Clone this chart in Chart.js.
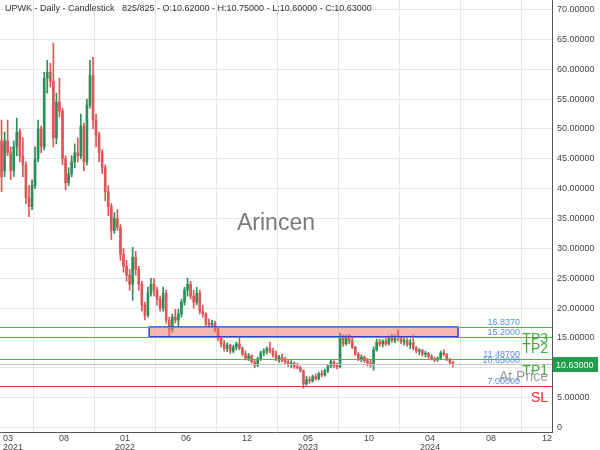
<!DOCTYPE html>
<html><head><meta charset="utf-8">
<script src="https://cdn.jsdelivr.net/npm/chart.js@4.4.1/dist/chart.umd.min.js"></script>
<style>html,body{margin:0;padding:0;background:#fff;}canvas{display:block;}</style>
</head><body><canvas id="c" width="600" height="450"></canvas>
<script>
// ---- data (one candle per ~5.5 trading days) ----
const openP = [
48,43,48,46,43,47,49.5,45.5,44,38.5,
37,40.5,45,50,47,58.5,59.5,58,48.5,54.5,
53,45,41,42.5,44.5,46,45.5,50.5,44.5,54,
59,51.5,49,46,43.5,39.5,37,33,35,33.5,
29,27,25.5,24,28.5,26.5,24,20.5,18.8,22.5,
24,23,21.5,20,22.5,18,16.5,18.5,18,19,
21,23,24,22,21,22.5,19.5,19,17.5,17.2,
17.5,16.5,15,14,13.2,13.8,12.8,13.5,14,13.3,
12.3,11.6,12,11,10.4,11.5,12.5,12.8,13.2,12.8,
12.2,11.6,11.8,11.2,11,10.5,10.8,10.2,10,9.5,
7.3,8,7.8,8.5,8.2,9,8.8,9.5,10.3,11,
10.4,10.2,15,14,15.2,14.5,13.5,12.3,11.5,11.8,
11.2,10.8,10.5,13,14.3,14,14.5,14,15,14.6,
15.2,15,14.4,14.6,13.9,14.2,13.3,12.8,12.9,12.3,
12.4,11.9,11.5,11.3,11.6,12.5,12.2,11.4,10.9];
const highP = [
51.5,49.5,51.5,47,48,51.8,50,48.5,44.5,40.5,
41.5,47,51.5,50.5,59.5,61.5,61,64.4,56,58.5,
53.5,45.5,43.5,45.5,47.5,48.5,52.5,51,55,61.5,
62,52.5,49.5,46.5,44,40.5,37.5,36,36.5,34,
30,28,26.5,30.2,29.5,27,24.5,21,23.5,25,
25,23.5,22,23.5,23,18.5,19,19.8,19.8,21.5,
23.5,25,24.5,23,23.5,23,20.5,19.2,18.2,18,
17.8,16.8,15.3,14.6,14.2,14,13.8,14.3,15.2,13.5,
12.8,12.4,12.2,11.3,11.8,12.8,13.2,13.5,14.3,13.3,
12.8,12.1,12.3,11.8,11.4,11.2,11,10.8,10.3,9.6,
8.6,8.5,8.8,9,9.3,9.6,9.8,10.5,11.3,11.2,
10.8,15.8,15.5,15.5,15.6,15,13.6,12.6,12.2,12,
11.6,11.3,13.5,14.8,14.8,14.7,14.9,15.3,15.6,15.5,
16.3,15.3,15,14.9,14.8,15.5,13.6,13.2,13.1,12.8,
12.6,12.2,11.8,11.8,12.8,13,12.4,11.6,11.1];
const lowP = [
39.5,42,45.5,41.5,42,45.5,44.5,42,37.5,35.3,
36.5,40,44.5,46,46.5,56,57,47,47.5,52,
44,39.8,40.5,42,43.5,44.5,45,43,44,53.5,
50,47,44.5,42.5,38,35.5,31.5,32.5,33,28,
26,24.5,23,21.3,25.5,23,19.5,18,18.5,22,
22,20.5,19.5,19.5,17.5,15.2,16,17.5,17,18.5,
20.5,22,21.5,20,20.5,19,18.5,17,16.8,16.8,
16,14.5,13.5,12.8,12.7,12.4,12.5,13,13,12,
11.3,11.2,10.8,10,10.2,11.2,12,12.3,12.5,11.8,
11.2,10.9,11,10.6,10.2,10,9.9,9.8,9.3,6.6,
7.1,7.4,7.6,7.9,8,8.5,8.6,9.2,10,10,
9.8,10,13.6,13.8,14,13.2,12,11.2,11,10.9,
10.3,10.1,9.6,12.8,13.6,13.5,13.7,13.8,14.3,14.2,
14.5,14,13.8,13.6,13.2,13,12.5,12.2,12,11.8,
11.6,11.3,11,11.1,11.4,12,11.2,10.6,10.1];
const closeP = [
42,48,46,43,47,49.5,45.5,44,38.5,37,
40.5,45,50,47,58.5,59.5,58,48.5,54.5,53,
45,41,42.5,44.5,46,45.5,50.5,44.5,54,59,
51.5,49,46,43.5,39.5,37,33,35,33.5,29,
27,25.5,24,28.5,26.5,24,20.5,18.8,22.5,24,
23,21.5,20,22.5,18,16.5,18.5,18,19,21,
23,24,22,21,22.5,19.5,19,17.5,17.2,17.5,
16.5,15,14,13.2,13.8,12.8,13.5,14,13.3,12.3,
11.6,12,11,10.4,11.5,12.5,12.8,13.2,12.8,12.2,
11.6,11.8,11.2,11,10.5,10.8,10.2,10,9.5,7.3,
8,7.8,8.5,8.2,9,8.8,9.5,10.3,11,10.4,
10.2,15,14,15.2,14.5,13.5,12.3,11.5,11.8,11.2,
10.8,10.5,13,14.3,14,14.5,14,15,14.6,15.2,
15,14.4,14.6,13.9,14.2,13.3,12.8,12.9,12.3,12.4,
11.9,11.5,11.3,11.6,12.5,12.2,11.4,10.9,10.63];

// x-axis tick labels (slot index, month, year)
const tickPos   = [0.5, 20.5, 40.5, 60.5, 80.5, 100.5, 120.5, 140.5, 160.5, 180.5];
const tickMonth = ['03','08','01','06','12','05','10','04','08','12'];
const tickYear  = ['2021','','2022','','','2023','','2024','',''];
const yTicks = [0,5,10,15,20,25,30,35,40,45,50,55,60,65,70];

// price levels
const levelValues = [16.837, 15.2, 11.487, 10.63, 7.0];
const levelLabels = ['16.8370','15.2000','11.48700','10.63000','7.00000'];
const levelNames  = ['TP3','TP2','TP1','At Price','SL'];
// zone (candle index range, price range)
const zoneStart = 48.4, zoneEnd = 149.7, zoneLow = 15.2, zoneHigh = 16.837;

const titleText = 'UPWK - Daily - Candlestick   825/825 - O:10.62000 - H:10.75000 - L:10.60000 - C:10.63000';
const lastPrice = 10.63;

// ---- styles ----
const FONT = '"Liberation Sans", Arial, sans-serif';
const UP = '#2c8f58', DOWN = '#dc5858';
const levelColors = ['#46b846','#46b846','#46b846','#c4c4c4','#e03030'];
const nameColors  = ['#3daa3d','#3daa3d','#3daa3d','#9a9a9a','#e22a2a'];

const colors = closeP.map((c,i)=> c >= openP[i] ? UP : DOWN);
const wickData = highP.map((h,i)=>({x:i, y:[lowP[i], h]}));
const bodyData = openP.map((o,i)=>({x:i, y:[Math.min(o,closeP[i]), Math.max(o,closeP[i])]}));

const overlay = {
  id:'overlay',
  afterDatasetsDraw(chart){
    const {ctx, chartArea:a, scales:{x,y}} = chart;
    ctx.save();
    // zone
    const zx0 = x.getPixelForValue(zoneStart), zx1 = x.getPixelForValue(zoneEnd);
    const zy0 = y.getPixelForValue(zoneHigh), zy1 = y.getPixelForValue(zoneLow);
    ctx.fillStyle = 'rgba(236,112,100,0.5)';
    ctx.fillRect(zx0, zy0, zx1-zx0, zy1-zy0);
    ctx.strokeStyle = '#3a3ad0'; ctx.lineWidth = 1.5;
    ctx.strokeRect(zx0, zy0, zx1-zx0, zy1-zy0);
    // level lines
    ctx.lineWidth = 1;
    levelValues.forEach((v,i)=>{
      const ly = Math.round(y.getPixelForValue(v)) + 0.5;
      ctx.strokeStyle = levelColors[i];
      ctx.beginPath(); ctx.moveTo(a.left, ly); ctx.lineTo(a.right, ly); ctx.stroke();
    });
    // small value labels
    ctx.font = '9px ' + FONT; ctx.fillStyle = '#5b8ee0';
    ctx.textAlign = 'right'; ctx.textBaseline = 'alphabetic';
    levelValues.forEach((v,i)=>{
      const ly = y.getPixelForValue(v);
      ctx.fillText(levelLabels[i], a.right - 32, ly - 1.5);
    });
    // names
    ctx.font = '14px ' + FONT;
    levelValues.forEach((v,i)=>{
      const ly = y.getPixelForValue(v);
      ctx.fillStyle = nameColors[i];
      ctx.fillText(levelNames[i], a.right - 4, ly + 16.5);
    });
    ctx.restore();
  },
  afterDraw(chart){
    const {ctx, chartArea:a, scales:{y}} = chart;
    ctx.save();
    // watermark
    ctx.font = '23px ' + FONT; ctx.fillStyle = 'rgba(100,100,100,0.85)';
    ctx.textAlign = 'center'; ctx.textBaseline = 'middle';
    ctx.fillText('Arincen', (a.left + a.right)/2, 224);
    // title
    ctx.font = '9px ' + FONT; ctx.fillStyle = '#333';
    ctx.textAlign = 'left';
    ctx.fillText(titleText, 5, 9);
    // price tag
    const py = y.getPixelForValue(lastPrice);
    ctx.fillStyle = '#1f9e4c';
    ctx.fillRect(a.right + 1, py - 7, 45, 15);
    ctx.fillStyle = '#fff'; ctx.textAlign = 'left';
    ctx.fillText(lastPrice.toFixed(5), a.right + 4, py + 1);
    ctx.restore();
  }
};

new Chart(document.getElementById('c'), {
  type:'bar',
  data:{ datasets:[
    { data: bodyData, backgroundColor: colors, barThickness: 2, grouped:false, minBarLength:1, order:1 },
    { data: wickData, backgroundColor: colors, barThickness: 1, grouped:false, order:2 }
  ]},
  options:{
    responsive:false, animation:false, devicePixelRatio:1,
    layout:{padding:0},
    plugins:{legend:{display:false}, tooltip:{enabled:false}},
    scales:{
      x:{ type:'linear', min:-0.5, max:180.5, offset:false,
        grid:{color:'#e6e6e6', drawTicks:false},
        border:{display:true, color:'#555'},
        afterBuildTicks: s => { s.ticks = tickPos.map(v=>({value:v})); },
        ticks:{ autoSkip:false, maxRotation:0, align:'inner', padding:2,
          font:{size:9, family:FONT, lineHeight:1}, color:'#444',
          callback:(v,i)=> tickYear[i] ? [tickMonth[i], tickYear[i]] : tickMonth[i] },
        afterFit: s => { s.height = 18; s.paddingLeft = 0; s.paddingRight = 0; } },
      y:{ position:'right', min:-0.75, max:71.6,
        grid:{color:'#e6e6e6', drawTicks:false},
        border:{display:true, color:'#555'},
        afterBuildTicks: s => { s.ticks = yTicks.map(v=>({value:v})); },
        ticks:{ padding:5, font:{size:9, family:FONT}, color:'#444',
          callback: v => v === 0 ? '0' : v.toFixed(5) },
        afterFit: s => { s.width = 48; s.paddingTop = 0; s.paddingBottom = 0; } }
    }
  },
  plugins:[overlay]
});
</script></body></html>
